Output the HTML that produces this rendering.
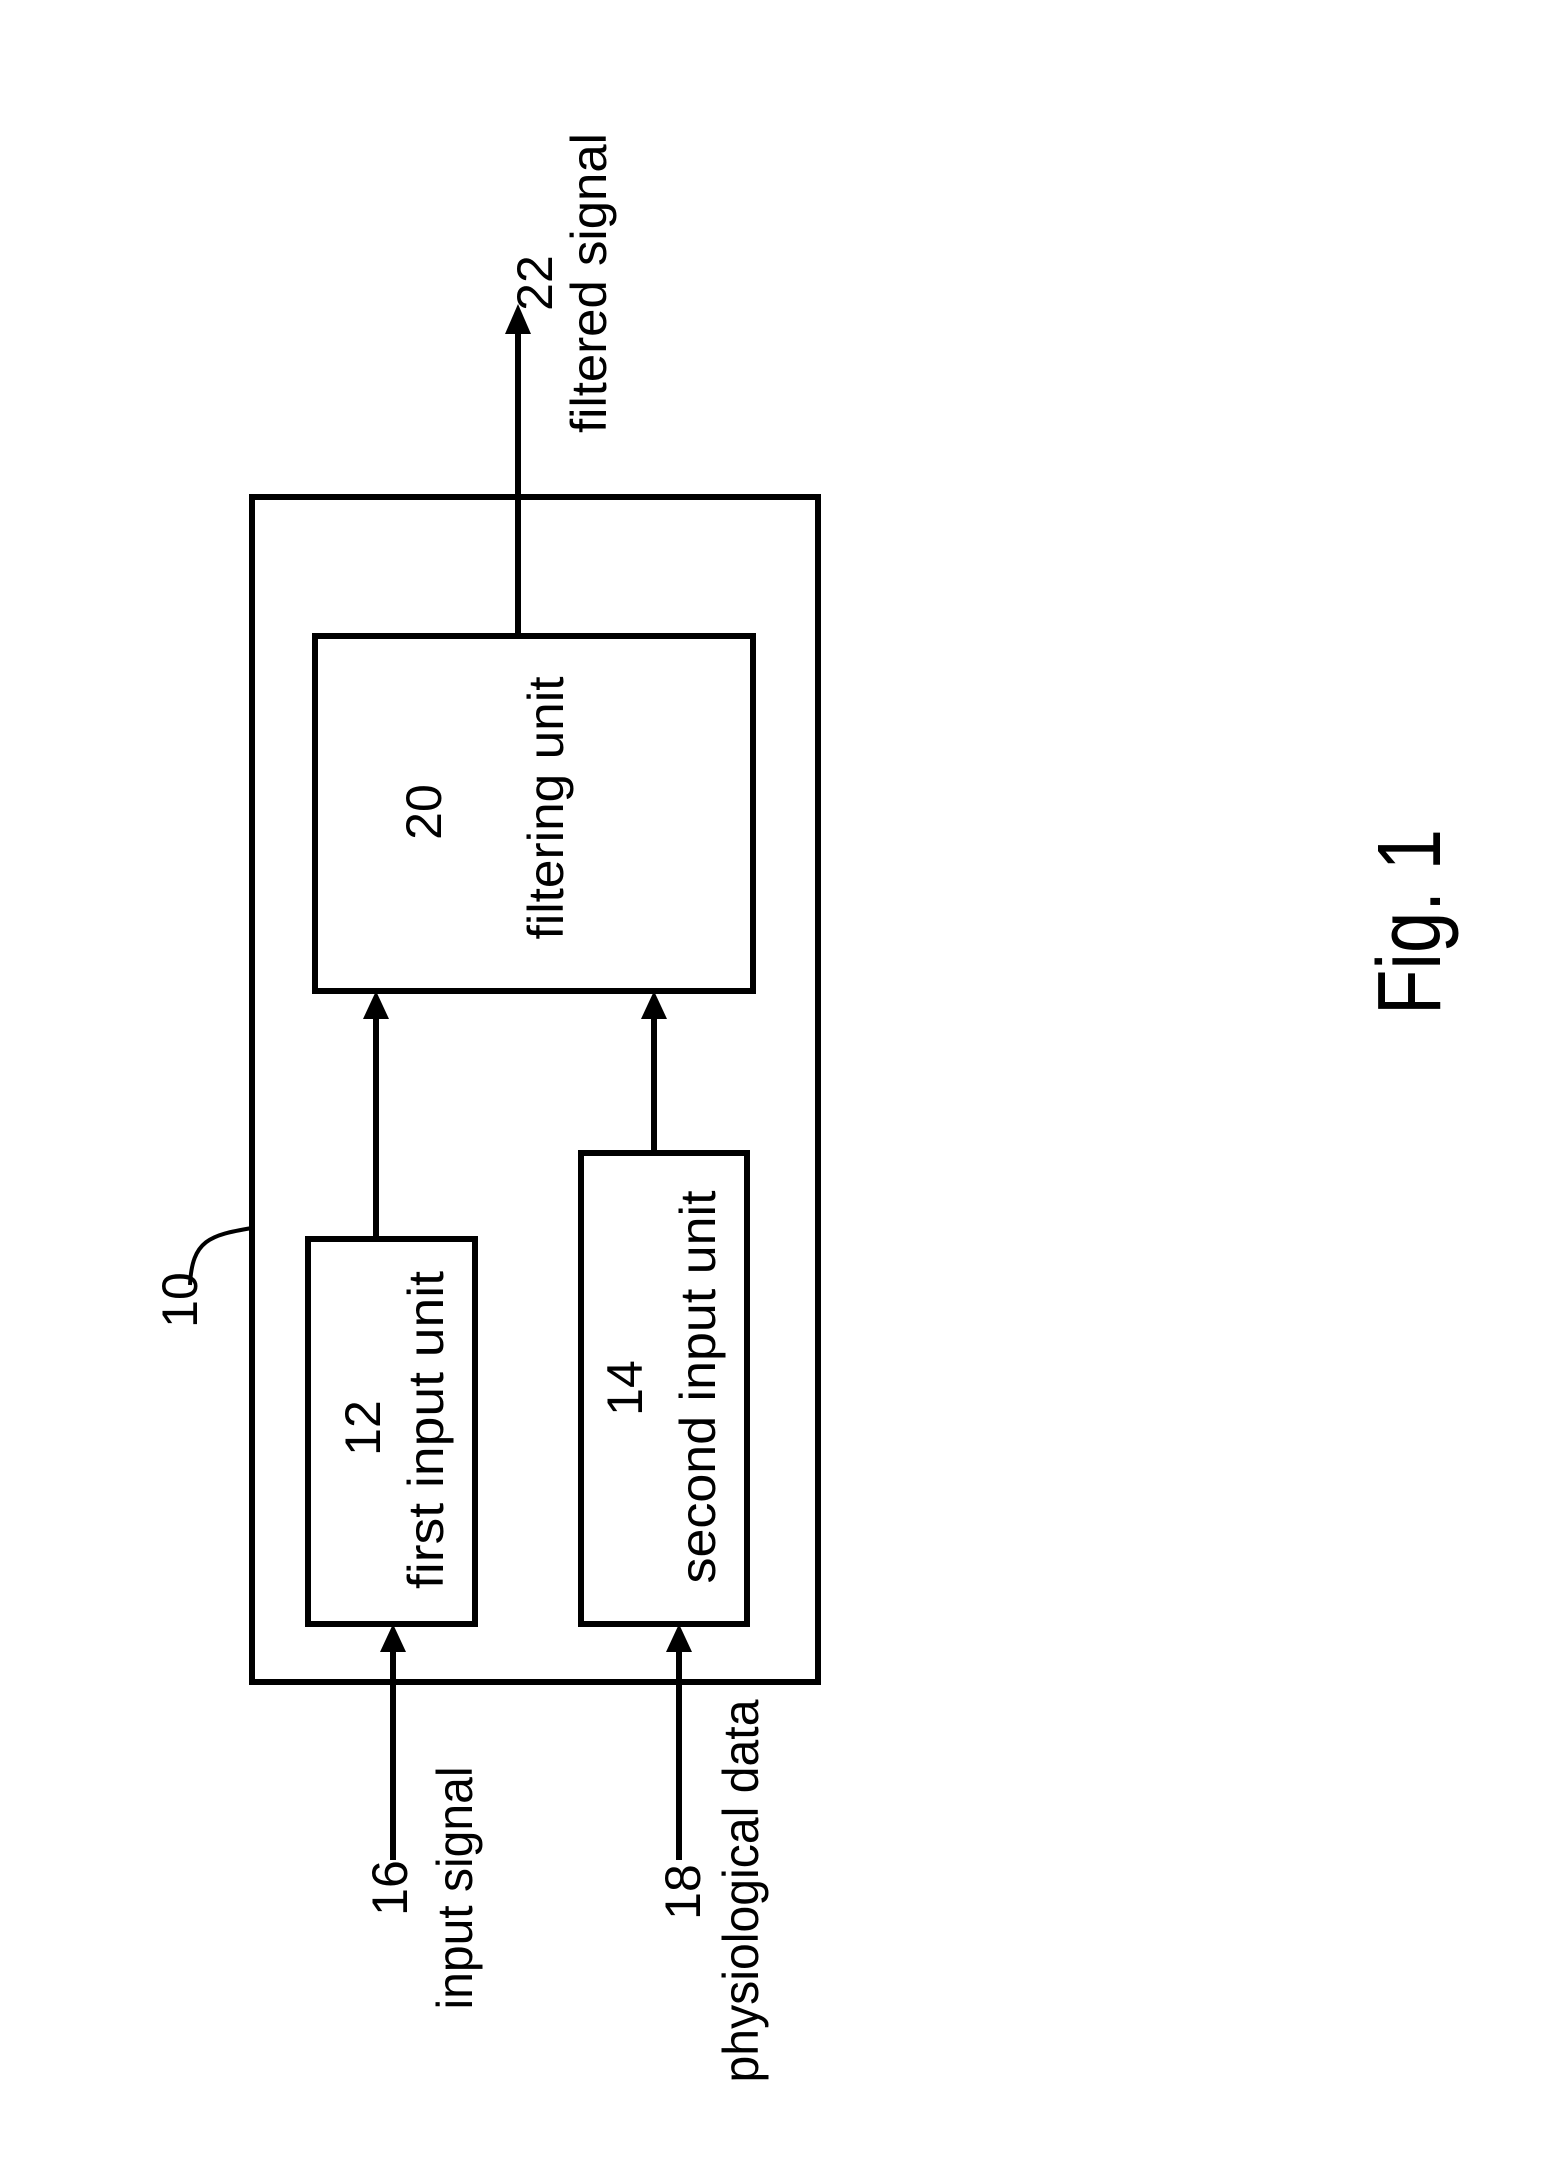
<!DOCTYPE html>
<html><head><style>
html,body{margin:0;padding:0;background:#fff;}
svg{display:block;}
text{font-family:"Liberation Sans",Arial,sans-serif;fill:#000;}
</style></head><body>
<svg width="1568" height="2165" viewBox="0 0 1568 2165" xmlns="http://www.w3.org/2000/svg">
<g fill="none" stroke="#000" stroke-width="6">
<rect x="252" y="497" width="566" height="1185"/>
<rect x="315" y="636" width="438" height="355"/>
<rect x="308" y="1239" width="167" height="385"/>
<rect x="581" y="1153" width="166" height="471"/>
<line x1="376" y1="1239" x2="376" y2="1015"/>
<line x1="654" y1="1153" x2="654" y2="1015"/>
<line x1="518" y1="636" x2="518" y2="330"/>
<line x1="393" y1="1860" x2="393" y2="1648"/>
<line x1="679" y1="1860" x2="679" y2="1648"/>
<path d="M190 1285 C192 1240 210 1235 252 1228" stroke-width="4"/>
</g>
<g fill="#000">
<polygon points="376,991 363,1019 389,1019"/>
<polygon points="654,991 641,1019 667,1019"/>
<polygon points="518,304 505,334 531,334"/>
<polygon points="393,1624 380,1652 406,1652"/>
<polygon points="679,1624 666,1652 692,1652"/>
</g>
<g font-size="50" text-anchor="middle">
<text transform="translate(197,1300) rotate(-90)">10</text>
<text transform="translate(380,1428) rotate(-90)">12</text>
<text transform="translate(443,1430) rotate(-90)" textLength="318" lengthAdjust="spacingAndGlyphs">first input unit</text>
<text transform="translate(642,1388) rotate(-90)">14</text>
<text transform="translate(715,1387) rotate(-90)" textLength="393" lengthAdjust="spacingAndGlyphs">second input unit</text>
<text transform="translate(441,812) rotate(-90)">20</text>
<text transform="translate(563,808) rotate(-90)" textLength="263" lengthAdjust="spacingAndGlyphs">filtering unit</text>
<text transform="translate(552,283) rotate(-90)">22</text>
<text transform="translate(606,283) rotate(-90)" textLength="300" lengthAdjust="spacingAndGlyphs">filtered signal</text>
<text transform="translate(407,1888) rotate(-90)">16</text>
<text transform="translate(472,1888) rotate(-90)" textLength="243" lengthAdjust="spacingAndGlyphs">input signal</text>
<text transform="translate(700,1892) rotate(-90)">18</text>
<text transform="translate(758,1891) rotate(-90)" textLength="383" lengthAdjust="spacingAndGlyphs">physiological data</text>
<text transform="translate(1440,922) rotate(-90)" font-size="90" textLength="186" lengthAdjust="spacingAndGlyphs">Fig. 1</text>
</g>
</svg>
</body></html>
